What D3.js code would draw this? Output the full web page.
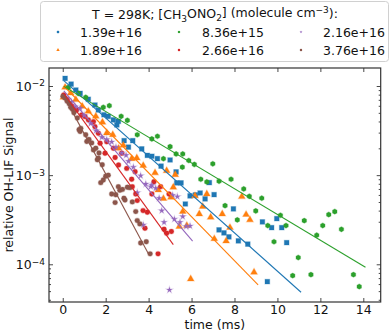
<!DOCTYPE html>
<html><head><meta charset="utf-8">
<script src="https://cdn.jsdelivr.net/npm/d3@7"></script>
<style>
body{margin:0;background:#fff;}
svg{display:block;font-family:"DejaVu Sans",sans-serif;}
</style></head><body>
<svg id="c" width="392" height="334"></svg>
<script>
// ---- data ----
const seriesLabels = ["1.39e+16","1.89e+16","8.36e+15","2.66e+16","2.16e+16","3.76e+16"];
const seriesColors = ["#1f77b4","#ff7f0e","#2ca02c","#d62728","#9467bd","#8c564b"];
const seriesMarkers = ["square","triangle","hexagon","circle","star","circle"];

const blueData = [[0.11,1.22e-2],[0.39,1.05e-2],[0.61,9.02e-3],[0.81,8.28e-3],[1.19,7.10e-3],[1.50,6.12e-3],[1.66,5.38e-3],[1.92,4.76e-3],[2.12,4.57e-3],[2.36,4.16e-3],[2.52,3.66e-3],[2.59,4.02e-3],[2.86,2.44e-3],[3.06,2.06e-3],[3.26,2.44e-3],[3.68,1.97e-3],[3.94,1.67e-3],[4.15,1.63e-3],[4.41,1.53e-3],[4.58,1.26e-3],[5.00,1.48e-3],[5.28,1.09e-3],[5.31,8.18e-4],[5.51,8.18e-4],[5.71,4.75e-4],[5.93,5.85e-4],[6.18,6.0e-4],[6.40,6.31e-4],[6.63,5.41e-4],[6.83,8.24e-4],[7.05,6.04e-4],[7.28,2.43e-4],[7.51,2.25e-4],[7.74,2.03e-4],[7.95,4.18e-4],[8.18,1.83e-4],[8.62,1.68e-4],[9.30,2.99e-4],[9.53,6.40e-5],[9.73,2.58e-4],[9.97,3.25e-4],[10.20,2.58e-4],[10.43,1.75e-4]];
const orangeData = [[0.03,7.46e-3],[0.11,9.66e-3],[0.37,8.36e-3],[0.61,7.03e-3],[0.91,5.92e-3],[1.19,5.20e-3],[1.54,4.57e-3],[1.85,3.92e-3],[2.05,2.97e-3],[2.33,2.84e-3],[2.60,2.0e-3],[2.82,2.16e-3],[3.21,1.53e-3],[3.45,1.56e-3],[3.75,1.28e-3],[4.30,1.06e-3],[4.45,6.82e-4],[4.69,5.46e-4],[4.84,1.12e-3],[5.04,5.65e-4],[5.15,7.31e-4],[5.24,1.01e-3],[5.43,2.65e-4],[5.59,3.90e-4],[5.78,2.72e-4],[5.96,6.85e-5],[6.16,5.85e-4],[6.36,3.67e-4],[6.52,4.44e-4],[6.71,6.15e-4],[6.89,3.37e-4],[7.06,1.93e-4],[7.43,3.67e-4],[7.61,1.82e-4],[7.79,2.58e-4],[8.34,5.74e-4],[8.54,3.61e-4],[8.72,3.15e-4],[8.91,8.15e-5]];
const greenData = [[0.26,9.66e-3],[0.73,8.28e-3],[1.07,7.46e-3],[1.89,5.77e-3],[2.17,6.01e-3],[2.72,4.57e-3],[3.01,4.12e-3],[3.47,2.84e-3],[4.15,2.55e-3],[4.41,2.73e-3],[4.69,1.53e-3],[5.00,2.09e-3],[5.28,1.73e-3],[5.59,1.73e-3],[5.57,1.23e-3],[5.87,1.46e-3],[6.13,1.32e-3],[6.43,8.99e-4],[6.71,8.39e-4],[6.99,1.34e-3],[7.28,8.55e-4],[7.56,4.55e-4],[7.84,8.99e-4],[8.13,3.15e-4],[8.43,7.0e-4],[8.69,5.79e-4],[8.99,3.97e-4],[9.27,5.51e-4],[9.55,2.72e-4],[9.84,1.79e-4],[10.14,3.55e-4],[10.40,2.72e-4],[10.71,7.46e-5],[10.97,1.19e-4],[11.25,3.09e-4],[11.56,7.66e-5],[11.83,2.12e-4],[12.11,2.72e-4],[12.39,3.61e-4],[12.67,3.90e-4],[12.98,2.47e-4],[13.54,7.66e-5],[13.81,5.62e-5]];
const redData = [[0.05,7.94e-3],[0.20,7.08e-3],[0.42,5.97e-3],[0.65,5.38e-3],[0.88,4.73e-3],[1.04,4.53e-3],[1.19,4.17e-3],[1.43,3.98e-3],[1.50,3.50e-3],[1.66,2.95e-3],[1.74,2.28e-3],[1.97,1.76e-3],[2.05,2.37e-3],[2.36,2.0e-3],[2.44,1.58e-3],[2.60,1.30e-3],[2.75,1.76e-3],[2.98,1.19e-3],[3.21,8.99e-4],[3.24,7.43e-4],[3.37,1.09e-3],[3.40,6.15e-4],[3.47,5.18e-4],[3.74,4.0e-4],[3.83,2.54e-4],[3.94,3.84e-4],[4.15,6.15e-4],[4.25,8.45e-4],[4.44,1.31e-4],[4.56,7.43e-4],[4.72,2.47e-4],[4.84,2.23e-4],[4.95,6.15e-4],[5.06,2.33e-4]];
const purpleData = [[0.21,7.03e-3],[0.40,6.6e-3],[0.57,5.86e-3],[0.81,5.62e-3],[1.00,4.68e-3],[1.30,3.80e-3],[1.55,3.16e-3],[1.82,2.66e-3],[2.05,2.51e-3],[2.28,2.36e-3],[2.48,2.06e-3],[2.75,1.77e-3],[2.95,1.67e-3],[3.06,1.43e-3],[3.29,1.23e-3],[3.47,6.37e-4],[3.63,9.86e-4],[3.75,2.77e-4],[3.87,7.96e-4],[4.10,7.43e-4],[4.15,7.71e-4],[4.33,7.13e-4],[4.49,5.51e-4],[4.61,4.0e-4],[4.72,2.96e-4],[4.97,5.16e-5],[5.12,5.96e-4],[5.20,3.21e-4],[5.34,5.74e-4],[5.46,2.96e-4],[5.59,3.43e-4],[5.75,2.66e-4],[5.93,2.69e-4]];
const brownData = [[0.01,7.67e-3],[0.10,7.33e-3],[0.21,6.73e-3],[0.30,6.31e-3],[0.37,5.77e-3],[0.45,5.50e-3],[0.52,5.01e-3],[0.68,4.38e-3],[0.76,3.24e-3],[0.81,3.08e-3],[0.84,3.35e-3],[1.07,2.84e-3],[1.12,2.38e-3],[1.22,2.51e-3],[1.35,2.30e-3],[1.43,1.92e-3],[1.54,2.0e-3],[1.61,1.49e-3],[1.66,1.55e-3],[1.69,1.77e-3],[1.77,8.24e-4],[1.84,1.31e-3],[1.89,8.83e-4],[2.00,9.73e-4],[2.12,1.0e-3],[2.28,6.15e-4],[2.44,4.92e-4],[2.47,6.03e-4],[2.59,7.43e-4],[2.66,6.76e-4],[2.78,6.92e-4],[2.85,5.50e-4],[2.90,5.27e-4],[3.01,7.31e-4],[3.13,7.24e-4],[3.24,5.01e-4],[3.40,3.90e-4],[3.47,3.09e-4],[3.59,2.84e-4],[3.63,1.73e-4],[3.89,1.79e-4],[4.07,1.31e-4]];
const seriesData = [blueData, orangeData, greenData, redData, purpleData, brownData];

// fitted lines: [t, value] at start and end
const fitLines = [
  [[0.05,1.15e-2],[11.1,4.86e-5]],
  [[0.05,1.0e-2],[9.1,5.86e-5]],
  [[0.05,9.9e-3],[14.1,9.25e-5]],
  [[0.05,8.2e-3],[5.15,1.66e-4]],
  [[0.05,8.8e-3],[6.05,1.82e-4]],
  [[0.05,7.8e-3],[3.99,1.31e-4]]
];

const xTicks = [0,2,4,6,8,10,12,14];
const yTicks = [1e-2,1e-3,1e-4];
const yTickExp = ["−2","−3","−4"];

// ---- layout ----
const L=49, R=380.7, T=68, B=302;
const svg = d3.select("#c");
const x = d3.scaleLinear().domain([-0.64,14.81]).range([L,R]);
const y = d3.scaleLog().domain([Math.pow(10,-4.423),Math.pow(10,-1.798)]).range([B,T]);

const plot = svg.append("g");
plot.append("clipPath").attr("id","clip").append("rect")
  .attr("x",L).attr("y",T).attr("width",R-L).attr("height",B-T);

function hexPath(r){
  const p=[];for(let i=0;i<6;i++){const a=Math.PI/6+i*Math.PI/3;p.push([r*Math.cos(a),r*Math.sin(a)]);}
  return "M"+p.map(d=>d.join(",")).join("L")+"Z";
}
function markerPath(kind, scale){
  const s = scale||1;
  if(kind==="square") return d3.symbol(d3.symbolSquare, 22*s*s)();
  if(kind==="triangle") return d3.symbol(d3.symbolTriangle, 20*s*s)();
  if(kind==="hexagon") return hexPath(2.6*s);
  if(kind==="circle") return d3.symbol(d3.symbolCircle, 19*s*s)();
  if(kind==="star") return d3.symbol(d3.symbolStar, 11*s*s)();
}

const dataG = plot.append("g").attr("clip-path","url(#clip)");
seriesData.forEach((data,i)=>{
  dataG.append("g").selectAll("path").data(data).join("path")
    .attr("d",markerPath(seriesMarkers[i]))
    .attr("transform",d=>`translate(${x(d[0])},${y(d[1])})`)
    .attr("fill",seriesColors[i])
    .attr("stroke",seriesColors[i]).attr("stroke-opacity",0.3).attr("stroke-width",1.1);
});
const line = d3.line().x(d=>x(d[0])).y(d=>y(d[1]));
fitLines.forEach((f,i)=>{
  dataG.append("path").attr("d",line(f)).attr("fill","none")
    .attr("stroke",seriesColors[i]).attr("stroke-width",1.1);
});

// axes
const tickColor="#333";
const gx = svg.append("g").attr("transform",`translate(0,${B})`)
  .call(d3.axisBottom(x).tickValues(xTicks).tickSize(-4).tickPadding(3).tickSizeOuter(0));
const gxt = svg.append("g").attr("transform",`translate(0,${T})`)
  .call(d3.axisTop(x).tickValues(xTicks).tickSize(-4).tickFormat("").tickSizeOuter(0));
const gy = svg.append("g").attr("transform",`translate(${L},0)`)
  .call(d3.axisLeft(y).tickValues(yTicks).tickSize(-4).tickPadding(4).tickSizeOuter(0));
const gyr = svg.append("g").attr("transform",`translate(${R},0)`)
  .call(d3.axisRight(y).tickValues(yTicks).tickSize(-4).tickFormat("").tickSizeOuter(0));
const minor=[];
[-5,-4,-3,-2].forEach(e=>{for(let m=2;m<=9;m++){const v=m*Math.pow(10,e);if(v>y.domain()[0]&&v<y.domain()[1])minor.push(v);}});
svg.append("g").attr("transform",`translate(${L},0)`)
  .call(d3.axisLeft(y).tickValues(minor).tickSize(-2).tickFormat("").tickSizeOuter(0));
svg.append("g").attr("transform",`translate(${R},0)`)
  .call(d3.axisRight(y).tickValues(minor).tickSize(-2).tickFormat("").tickSizeOuter(0));
svg.selectAll(".domain").remove();
svg.selectAll(".tick line").attr("stroke",tickColor).attr("stroke-width",0.9);
svg.selectAll(".tick text").attr("font-family","DejaVu Sans").attr("font-size",12.5).attr("fill","#111");

gy.selectAll(".tick text").each(function(d,i){
  const t=d3.select(this); t.text("");
  t.append("tspan").text("10");
  t.append("tspan").attr("dy","-0.45em").attr("font-size",9).text(yTickExp[i]);
});

// frame
svg.append("rect").attr("x",L).attr("y",T).attr("width",R-L).attr("height",B-T)
  .attr("fill","none").attr("stroke","#333").attr("stroke-width",1.2);

// axis labels
svg.append("text").attr("x",(L+R)/2).attr("y",329).attr("text-anchor","middle")
  .attr("font-size",12.5).attr("fill","#111").text("time (ms)");
svg.append("text").attr("transform",`translate(13,${(T+B)/2}) rotate(-90)`).attr("text-anchor","middle")
  .attr("font-size",12.5).attr("fill","#111").text("relative OH-LIF Signal");

// legend
const lg = svg.append("g");
lg.append("rect").attr("x",40.5).attr("y",1.5).attr("width",348).attr("height",60)
  .attr("rx",3).attr("fill","#fff").attr("fill-opacity",0.8).attr("stroke","#d0d0d0").attr("stroke-width",1);
const title = lg.append("text").attr("x",215).attr("y",19).attr("text-anchor","middle")
  .attr("font-size",12.5).attr("fill","#111");
title.append("tspan").text("T = 298K; [CH");
title.append("tspan").attr("dy","0.3em").attr("font-size",9).text("3");
title.append("tspan").attr("dy","-0.3em").text("ONO");
title.append("tspan").attr("dy","0.3em").attr("font-size",9).text("2");
title.append("tspan").attr("dy","-0.3em").text("] (molecule cm");
title.append("tspan").attr("dy","-0.45em").attr("font-size",9).text("−3");
title.append("tspan").attr("dy","0.45em").text("):");
const colX=[58,179,301], textX=[80,202,323], rowY=[32,50];
seriesLabels.forEach((lab,i)=>{
  const c=Math.floor(i/2), r=i%2;
  lg.append("path").attr("d",markerPath(seriesMarkers[i],0.5))
    .attr("transform",`translate(${colX[c]},${rowY[r]})`)
    .attr("fill",seriesColors[i]);
  lg.append("text").attr("x",textX[c]).attr("y",rowY[r]+4.5).attr("font-size",12.5)
    .attr("fill","#111").text(lab);
});
</script>
</body></html>
